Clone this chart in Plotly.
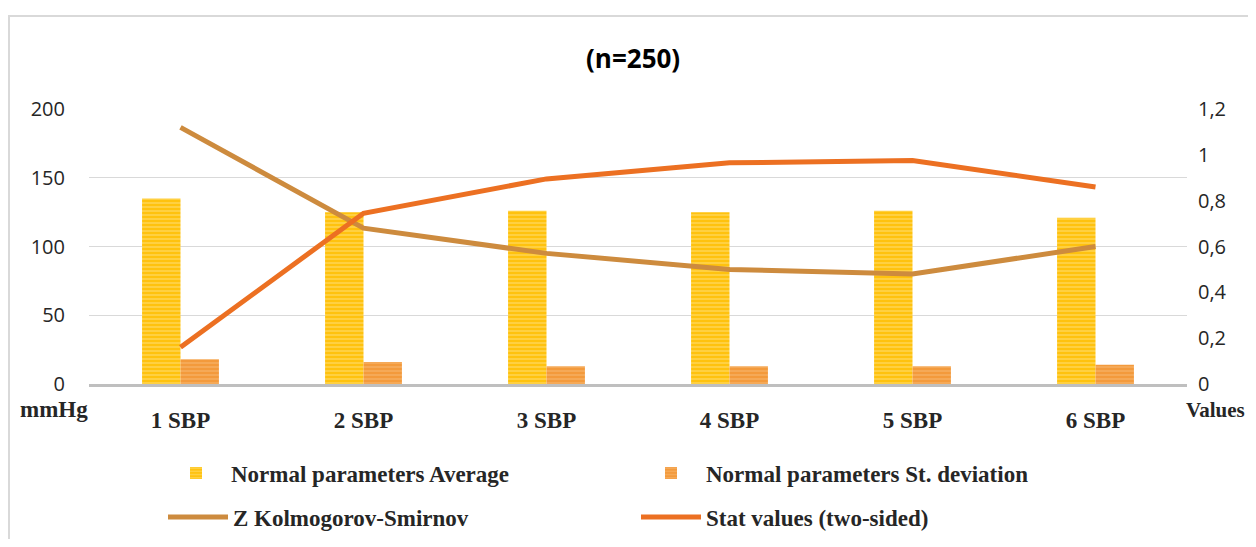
import plotly.graph_objects as go

categories = ["1 SBP", "2 SBP", "3 SBP", "4 SBP", "5 SBP", "6 SBP"]
avg_values = [135, 125, 126, 125, 126, 121]
sd_values = [18, 16, 13, 13, 13, 14]
z_ks_values = [1.12, 0.68, 0.57, 0.50, 0.48, 0.60]
stat_values = [0.16, 0.745, 0.895, 0.965, 0.975, 0.86]

# page has an 8px body margin: figure coords = reference coords - 8
OFF = 8
W, H = 1256 - 2 * OFF, 547 - 2 * OFF
L = 89 - OFF
T = 109 - OFF
PR = 1187 - OFF   # plot right
PB = 384 - OFF    # plot bottom
R = W - PR
B = H - PB
pw = PR - L
ph = PB - T


def px(xr):
    return (xr - OFF - L) / pw


def py(yr):
    return (PB - (yr - OFF)) / ph


serif_bold = dict(family="Liberation Serif", size=23, color="#262626", weight="bold")
sans = dict(family="Open Sans", size=20, color="#262626")

fig = go.Figure()
fig.add_trace(go.Bar(
    x=categories, y=avg_values, name="Normal parameters Average",
    marker=dict(color="#FFC20E", line=dict(width=0),
                pattern=dict(shape="-", fgcolor="#FFE9A0", size=4, solidity=0.35, fillmode="overlay")),
    yaxis="y", legend="legend",
))
fig.add_trace(go.Bar(
    x=categories, y=sd_values, name="Normal parameters St. deviation",
    marker=dict(color="#F39A3C", line=dict(width=0),
                pattern=dict(shape="-", fgcolor="#F9C58A", size=4, solidity=0.35, fillmode="overlay")),
    yaxis="y", legend="legend",
))
fig.add_trace(go.Scatter(
    x=categories, y=z_ks_values, name="Z Kolmogorov-Smirnov", mode="lines",
    line=dict(color="#CD8B3E", width=5), yaxis="y2", legend="legend2",
))
fig.add_trace(go.Scatter(
    x=categories, y=stat_values, name="Stat values (two-sided)", mode="lines",
    line=dict(color="#EC7022", width=5), yaxis="y2", legend="legend2",
))

legend_common = dict(
    orientation="h", xanchor="left", yanchor="middle",
    entrywidth=400, entrywidthmode="pixels",
    font=serif_bold, itemwidth=60, traceorder="normal",
    bgcolor="rgba(0,0,0,0)",
)

fig.update_layout(
    width=W, height=H,
    margin=dict(l=L, r=R, t=T, b=B, autoexpand=False),
    paper_bgcolor="white", plot_bgcolor="white",
    separators=", ",
    barmode="group", bargap=0.58, bargroupgap=0,
    showlegend=True,
    legend=dict(legend_common, x=px(161), y=py(473)),
    legend2=dict(legend_common, x=px(163), y=py(517), entrywidth=398),
    xaxis=dict(
        type="category", range=[-0.5, 5.5],
        showgrid=False, showline=True, linecolor="#BFBFBF", linewidth=3,
        ticks="", tickfont=serif_bold, ticklabelstandoff=13,
    ),
    yaxis=dict(
        range=[0, 200], dtick=50, showgrid=True, gridcolor="#D9D9D9", gridwidth=1,
        zeroline=False, showline=False, ticks="",
        tickfont=sans, ticklabelstandoff=23,
    ),
    yaxis2=dict(
        range=[0, 1.2], dtick=0.2, overlaying="y", side="right",
        showgrid=False, zeroline=False, showline=False, ticks="",
        tickfont=sans, ticklabelstandoff=10,
    ),
    annotations=[
        dict(text="<b>(n=250)</b>", xref="paper", yref="paper",
             x=px(633), y=py(58), showarrow=False,
             font=dict(family="Open Sans", size=26, color="#000000"),
             xanchor="center", yanchor="middle"),
        dict(text="mmHg", xref="paper", yref="paper",
             x=px(54), y=py(409), showarrow=False,
             font=serif_bold, xanchor="center", yanchor="middle"),
        dict(text="Values", xref="paper", yref="paper",
             x=px(1215), y=py(410), showarrow=False,
             font=dict(serif_bold, size=21), xanchor="center", yanchor="middle"),
    ],
    shapes=[
        dict(type="rect", xref="paper", yref="paper",
             x0=px(9), x1=px(1300), y0=py(600), y1=py(16),
             line=dict(color="#D9D9D9", width=2), layer="below"),
    ],
)

fig.write_html("out.html")
